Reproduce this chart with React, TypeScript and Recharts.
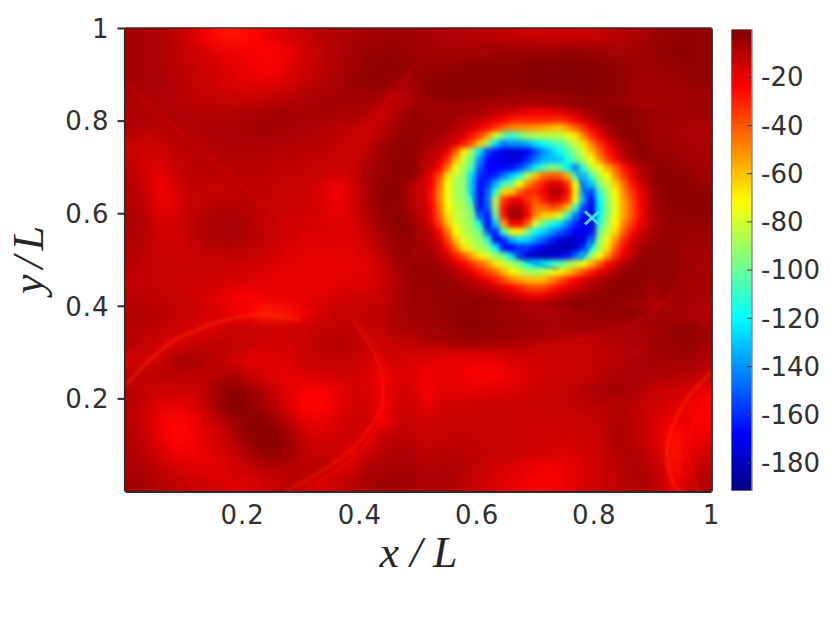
import React from 'react';
import { ScatterChart, Scatter, XAxis, YAxis, BarChart, Bar } from 'recharts';

const xTicks = [0.2, 0.4, 0.6, 0.8, 1];
const yTicks = [0.2, 0.4, 0.6, 0.8, 1];
const barTicks = [-20, -40, -60, -80, -100, -120, -140, -160, -180];
const vMin = -191.6;
const vMax = 0;
const markerPoint = [{ x: 0.796, y: 0.591 }];

// Coarse field of the whole domain, top row first (40 columns x 30 rows)
const coarseRows: number[][] = [
[-7,-8,-9,-12,-16,-22,-27,-28,-25,-22,-18,-15,-12,-10,-9,-8,-7,-6,-6,-6,-8,-9,-10,-10,-11,-12,-13,-14,-15,-15,-15,-14,-13,-11,-9,-7,-5,-4,-3,-4],
[-7,-8,-9,-11,-14,-17,-20,-21,-22,-24,-23,-19,-15,-12,-9,-7,-5,-4,-4,-5,-7,-7,-7,-7,-7,-6,-6,-5,-5,-5,-4,-5,-6,-7,-7,-6,-4,-3,-3,-4],
[-7,-8,-9,-11,-13,-15,-17,-19,-21,-23,-22,-18,-14,-11,-9,-6,-4,-3,-3,-4,-5,-5,-4,-3,-3,-3,-2,-2,-1,-1,-1,-1,-2,-3,-5,-6,-5,-4,-3,-4],
[-7,-8,-8,-10,-12,-14,-16,-18,-19,-19,-18,-15,-12,-10,-8,-5,-3,-3,-5,-8,-3,-2,-2,-2,-2,-2,-2,-1,-1,-1,-1,-1,-2,-3,-5,-7,-7,-6,-5,-4],
[-8,-9,-9,-10,-11,-12,-13,-14,-14,-13,-12,-11,-9,-8,-7,-6,-6,-8,-13,-10,-3,-3,-2,-2,-3,-4,-5,-6,-6,-5,-3,-2,-2,-3,-5,-7,-7,-7,-6,-5],
[-9,-9,-9,-9,-10,-10,-10,-10,-9,-8,-7,-7,-7,-7,-7,-8,-9,-14,-10,-5,-3,-4,-6,-7,-8,-8,-10,-14,-18,-20,-20,-18,-13,-8,-4,-3,-5,-6,-6,-5],
[-9,-10,-11,-10,-10,-9,-9,-8,-6,-6,-7,-8,-9,-10,-11,-12,-15,-12,-6,-4,-4,-8,-15,-22,-40,-48,-48,-45,-38,-28,-24,-18,-12,-5,-3,-3,-6,-8,-9,-9],
[-13,-15,-13,-11,-10,-10,-9,-9,-9,-9,-9,-10,-10,-11,-12,-14,-13,-7,-4,-3,-5,-12,-25,-60,-120,-140,-130,-100,-70,-50,-35,-24,-14,-7,-3,-3,-5,-7,-8,-8],
[-12,-17,-16,-12,-11,-10,-10,-10,-10,-10,-11,-11,-12,-12,-13,-14,-10,-6,-3,-3,-6,-20,-50,-100,-160,-170,-150,-120,-85,-60,-40,-26,-16,-9,-5,-3,-3,-5,-7,-8],
[-11,-17,-20,-14,-11,-11,-11,-11,-11,-11,-12,-12,-13,-14,-16,-14,-8,-5,-3,-3,-8,-30,-70,-100,-165,-150,-120,-130,-100,-70,-45,-30,-18,-14,-8,-4,-2,-3,-4,-6],
[-10,-15,-23,-17,-12,-13,-13,-12,-11,-12,-13,-14,-15,-18,-24,-17,-8,-3,-2,-10,-20,-45,-85,-140,-160,-110,-60,-30,-30,-100,-60,-40,-24,-25,-14,-6,-3,-2,-2,-4],
[-9,-13,-21,-18,-13,-12,-10,-10,-11,-12,-13,-14,-15,-17,-21,-16,-9,-4,-3,-8,-20,-60,-90,-140,-150,-60,-15,-30,-20,-130,-75,-48,-28,-40,-15,-7,-4,-3,-2,-2],
[-8,-11,-17,-15,-12,-9,-8,-8,-10,-12,-14,-15,-16,-17,-18,-17,-11,-5,-3,-3,-15,-70,-90,-165,-110,-25,-30,-40,-50,-155,-85,-55,-30,-35,-15,-7,-5,-4,-4,-4],
[-9,-11,-15,-16,-13,-9,-8,-8,-10,-12,-14,-16,-17,-17,-17,-18,-14,-8,-4,-3,-13,-60,-90,-165,-140,-100,-130,-140,-160,-170,-90,-58,-32,-17,-8,-5,-4,-4,-5,-6],
[-10,-12,-14,-15,-14,-12,-11,-11,-12,-14,-16,-18,-19,-19,-19,-19,-17,-11,-6,-4,-10,-45,-85,-105,-165,-170,-170,-175,-170,-130,-72,-50,-28,-16,-6,-4,-3,-4,-6,-7],
[-11,-12,-13,-14,-14,-14,-14,-15,-16,-17,-18,-19,-20,-20,-19,-19,-19,-14,-8,-4,-7,-22,-50,-72,-74,-72,-72,-60,-40,-25,-20,-14,-11,-9,-5,-3,-3,-4,-6,-8],
[-12,-12,-13,-14,-15,-15,-16,-17,-18,-19,-20,-21,-21,-20,-19,-18,-18,-15,-9,-5,-6,-10,-18,-26,-28,-28,-26,-22,-18,-14,-10,-8,-7,-6,-4,-3,-3,-5,-7,-8],
[-11,-11,-12,-13,-15,-17,-19,-22,-24,-22,-20,-20,-19,-18,-16,-15,-14,-13,-9,-5,-5,-4,-4,-5,-8,-12,-16,-20,-20,-14,-8,-5,-4,-3,-3,-4,-5,-6,-7,-8],
[-10,-10,-11,-12,-13,-15,-18,-21,-24,-30,-29,-26,-20,-15,-13,-12,-12,-11,-9,-6,-6,-5,-3,-3,-4,-5,-6,-7,-8,-8,-6,-5,-4,-4,-4,-5,-6,-8,-9,-10],
[-10,-11,-12,-14,-17,-19,-16,-13,-13,-14,-15,-15,-14,-12,-12,-12,-13,-12,-9,-8,-7,-5,-4,-3,-3,-4,-5,-6,-7,-8,-8,-8,-7,-7,-8,-8,-6,-4,-3,-6],
[-10,-13,-16,-18,-14,-12,-11,-12,-14,-16,-16,-15,-13,-11,-10,-11,-13,-15,-13,-13,-10,-10,-8,-7,-7,-8,-9,-10,-11,-12,-13,-13,-12,-11,-10,-8,-6,-5,-4,-7],
[-16,-16,-14,-8,-7,-10,-13,-16,-19,-19,-18,-16,-14,-13,-12,-13,-16,-17,-16,-17,-17,-20,-20,-21,-21,-19,-17,-16,-15,-15,-14,-13,-12,-11,-9,-8,-7,-6,-7,-9],
[-12,-12,-11,-11,-12,-12,-10,-9,-14,-17,-19,-19,-17,-16,-15,-15,-17,-22,-18,-18,-22,-20,-21,-22,-24,-23,-20,-18,-16,-15,-14,-13,-11,-9,-8,-8,-9,-10,-11,-13],
[-11,-13,-15,-15,-14,-11,-5,-2,-5,-10,-16,-20,-23,-23,-20,-17,-17,-21,-17,-16,-22,-19,-18,-19,-19,-18,-17,-16,-15,-13,-12,-10,-8,-7,-8,-11,-14,-15,-17,-20],
[-11,-15,-19,-20,-18,-13,-5,-1,-3,-7,-13,-20,-25,-24,-20,-16,-15,-22,-16,-15,-19,-16,-15,-15,-14,-14,-14,-14,-13,-13,-12,-11,-11,-10,-11,-14,-16,-18,-22,-24],
[-11,-16,-22,-25,-22,-17,-11,-5,-3,-3,-7,-14,-20,-20,-17,-14,-14,-24,-14,-13,-16,-14,-13,-13,-14,-14,-14,-15,-15,-15,-14,-13,-12,-9,-10,-14,-18,-22,-20,-24],
[-10,-15,-21,-25,-23,-19,-15,-9,-4,-1,-3,-8,-15,-17,-15,-13,-21,-13,-11,-11,-14,-13,-12,-12,-13,-14,-14,-15,-15,-15,-16,-15,-13,-8,-10,-14,-20,-26,-22,-20],
[-9,-12,-17,-21,-22,-20,-17,-13,-8,-4,-3,-7,-12,-13,-13,-20,-14,-11,-9,-9,-12,-11,-10,-11,-12,-13,-14,-15,-16,-17,-17,-16,-14,-10,-9,-12,-17,-28,-20,-16],
[-8,-10,-13,-16,-18,-19,-18,-16,-13,-11,-10,-11,-11,-10,-17,-16,-9,-8,-7,-7,-10,-9,-9,-11,-13,-16,-18,-20,-22,-22,-19,-16,-14,-12,-9,-9,-14,-26,-17,-12],
[-6,-8,-10,-12,-14,-15,-17,-18,-17,-15,-13,-10,-14,-18,-13,-10,-8,-6,-6,-6,-9,-8,-9,-12,-15,-18,-20,-22,-23,-22,-19,-16,-14,-12,-10,-9,-12,-22,-14,-9],
];

// Finer field of the large vortex, top row first (30 columns x 26 rows)
const vortexRows: number[][] = [
[-6,-6,-6,-5,-5,-5,-5,-6,-7,-8,-8,-8,-8,-8,-8,-7,-6,-5,-4,-4,-3,-3,-3,-3,-4,-5,-6,-7,-8,-8],
[-6,-6,-5,-5,-5,-6,-7,-8,-9,-10,-12,-14,-17,-20,-22,-22,-20,-18,-15,-12,-9,-6,-4,-3,-2,-2,-3,-4,-5,-6],
[-5,-5,-5,-6,-7,-9,-11,-13,-16,-20,-24,-28,-30,-30,-30,-30,-30,-32,-28,-22,-16,-10,-6,-3,-2,-2,-3,-4,-5,-6],
[-5,-5,-6,-7,-9,-12,-15,-20,-26,-34,-42,-48,-50,-50,-52,-55,-58,-60,-52,-42,-32,-22,-14,-8,-4,-3,-3,-4,-5,-6],
[-5,-6,-8,-10,-13,-18,-26,-36,-52,-80,-100,-110,-100,-90,-85,-85,-85,-85,-76,-68,-48,-32,-22,-12,-6,-3,-3,-3,-4,-6],
[-6,-8,-10,-13,-18,-26,-40,-60,-90,-125,-145,-140,-140,-135,-125,-118,-110,-105,-95,-82,-65,-48,-33,-23,-14,-7,-4,-3,-4,-6],
[-8,-10,-12,-22,-40,-68,-90,-125,-155,-165,-172,-175,-172,-168,-155,-140,-130,-118,-105,-92,-78,-60,-42,-28,-18,-10,-5,-3,-3,-5],
[-10,-11,-18,-32,-58,-82,-100,-140,-165,-170,-172,-176,-172,-160,-145,-135,-132,-130,-115,-100,-88,-72,-52,-35,-24,-14,-8,-4,-3,-4],
[-11,-14,-24,-45,-75,-88,-105,-150,-168,-168,-168,-165,-155,-140,-122,-105,-95,-100,-122,-145,-110,-85,-74,-56,-42,-28,-18,-10,-5,-3],
[-13,-22,-38,-65,-85,-90,-125,-160,-165,-160,-145,-130,-115,-85,-60,-45,-40,-42,-58,-110,-135,-105,-85,-72,-50,-34,-22,-12,-6,-4],
[-14,-24,-44,-72,-88,-92,-130,-165,-158,-135,-110,-100,-72,-52,-38,-28,-18,-18,-32,-75,-140,-130,-95,-82,-62,-45,-28,-18,-9,-4],
[-14,-26,-48,-74,-88,-92,-125,-168,-150,-112,-65,-62,-42,-32,-30,-22,-10,-10,-25,-70,-140,-155,-110,-88,-70,-50,-34,-22,-12,-5],
[-13,-26,-48,-72,-86,-90,-112,-170,-148,-85,-35,-22,-22,-32,-40,-28,-18,-18,-32,-75,-135,-165,-120,-92,-74,-54,-38,-24,-14,-6],
[-12,-24,-46,-70,-84,-88,-100,-165,-152,-90,-26,-10,-10,-26,-45,-45,-38,-42,-60,-110,-155,-170,-122,-94,-76,-56,-40,-26,-15,-7],
[-12,-22,-42,-66,-82,-88,-95,-145,-165,-100,-28,-6,-6,-22,-50,-62,-65,-78,-110,-145,-165,-175,-120,-92,-74,-55,-40,-26,-15,-8],
[-10,-19,-36,-60,-78,-86,-92,-115,-168,-130,-55,-22,-22,-42,-80,-100,-115,-125,-145,-160,-168,-170,-112,-88,-70,-50,-34,-22,-13,-8],
[-8,-13,-24,-46,-72,-84,-90,-98,-150,-160,-110,-75,-70,-95,-120,-128,-140,-150,-160,-168,-172,-165,-100,-82,-64,-42,-27,-17,-10,-7],
[-7,-11,-18,-36,-60,-78,-86,-92,-110,-165,-160,-135,-125,-128,-140,-150,-162,-172,-178,-178,-175,-145,-92,-76,-52,-32,-19,-11,-7,-5],
[-6,-9,-14,-26,-46,-66,-80,-88,-95,-120,-165,-168,-160,-158,-165,-172,-178,-182,-182,-175,-160,-118,-88,-66,-42,-25,-14,-8,-5,-4],
[-5,-7,-11,-18,-28,-40,-55,-68,-80,-90,-100,-125,-155,-175,-180,-182,-178,-172,-165,-150,-125,-90,-72,-52,-32,-20,-11,-6,-4,-4],
[-4,-5,-7,-11,-17,-24,-32,-42,-52,-66,-80,-88,-98,-115,-125,-122,-112,-105,-92,-84,-72,-58,-40,-26,-17,-9,-5,-3,-3,-4],
[-4,-4,-5,-7,-10,-14,-20,-28,-36,-44,-58,-70,-80,-88,-90,-85,-78,-70,-62,-50,-38,-28,-20,-14,-9,-5,-3,-3,-3,-4],
[-4,-4,-4,-5,-6,-9,-12,-16,-22,-28,-38,-47,-54,-58,-60,-58,-50,-40,-30,-24,-17,-12,-8,-6,-4,-3,-3,-3,-4,-5],
[-5,-4,-4,-4,-5,-6,-7,-9,-12,-15,-19,-24,-30,-35,-38,-36,-30,-24,-19,-15,-11,-8,-6,-4,-3,-3,-3,-4,-5,-6],
[-6,-5,-4,-4,-4,-4,-5,-5,-6,-8,-10,-13,-16,-19,-22,-19,-16,-12,-9,-7,-6,-4,-3,-3,-3,-3,-3,-4,-6,-7],
[-7,-6,-5,-4,-4,-3,-3,-3,-3,-4,-5,-6,-7,-8,-8,-8,-6,-5,-4,-3,-3,-3,-3,-3,-4,-5,-6,-7,-8,-9],
];
const vortexX0 = 0.5094;
const vortexDx = 0.01365;
const vortexY0 = 0.8368;
const vortexDy = 0.0173;

// Thin filaments
const arcA = [{x:0.001,y:0.23},{x:0.077,y:0.321},{x:0.162,y:0.367},{x:0.23,y:0.382},{x:0.298,y:0.371}];
const arcB = [{x:0.387,y:0.371},{x:0.426,y:0.295},{x:0.441,y:0.209},{x:0.421,y:0.144},{x:0.375,y:0.079},{x:0.299,y:0.018},{x:0.273,y:0.001}];
const arcC = [{x:0.4,y:0.36},{x:0.438,y:0.29},{x:0.452,y:0.205},{x:0.43,y:0.135},{x:0.385,y:0.07},{x:0.32,y:0.012}];
const diagA = [{x:0,y:0.883},{x:0.128,y:0.738},{x:0.265,y:0.587},{x:0.401,y:0.436}];
const diagB = [{x:0.021,y:0.786},{x:0.16,y:0.65},{x:0.31,y:0.511}];
const upCurve = [{x:0.35,y:0.641},{x:0.401,y:0.738},{x:0.443,y:0.836},{x:0.503,y:0.933}];
const cornerA = [{x:0.999,y:0.257},{x:0.963,y:0.208},{x:0.938,y:0.154},{x:0.924,y:0.089},{x:0.933,y:0.024},{x:0.946,y:0}];
const cornerB = [{x:0.999,y:0.214},{x:0.972,y:0.154},{x:0.96,y:0.089},{x:0.972,y:0.024},{x:0.98,y:0}];
const midThin = [{x:0.844,y:0.203},{x:0.685,y:0.11},{x:0.571,y:0.03}];
const underBand = [{x:0.514,y:0.312},{x:0.61,y:0.298},{x:0.77,y:0.326},{x:0.883,y:0.376},{x:0.941,y:0.434}];
const ringA = [{x:0.592,y:0.65},{x:0.605,y:0.59},{x:0.64,y:0.54},{x:0.682,y:0.5},{x:0.74,y:0.48}];
const ringB = [{x:0.77,y:0.69},{x:0.79,y:0.63},{x:0.8,y:0.58},{x:0.795,y:0.535},{x:0.775,y:0.5}];

const PLOT_LEFT = 125.5;
const PLOT_TOP = 28.5;
const PLOT_W = 586;
const PLOT_H = 462.5;

const jetStops: [number, number, number, number][] = [
  [0, 0, 0, 128], [0.125, 0, 0, 255], [0.375, 0, 255, 255], [0.625, 255, 255, 0], [0.875, 255, 0, 0], [1, 128, 0, 0],
];
function jetAt(t: number): string {
  const c = Math.max(0, Math.min(1, t));
  for (let i = 1; i < jetStops.length; i++) {
    if (c <= jetStops[i][0]) {
      const a = jetStops[i - 1];
      const b = jetStops[i];
      const f = (c - a[0]) / (b[0] - a[0]);
      return `rgb(${Math.round(a[1] + (b[1] - a[1]) * f)},${Math.round(a[2] + (b[2] - a[2]) * f)},${Math.round(a[3] + (b[3] - a[3]) * f)})`;
    }
  }
  return 'rgb(128,0,0)';
}
const jet = (v: number) => jetAt((v - vMin) / (vMax - vMin));

const coarseCells = coarseRows.flatMap((row, r) =>
  row.map((value, c) => ({ x: (c + 0.5) / row.length, y: 1 - (r + 0.5) / coarseRows.length, value, r, c }))
);
const vortexCells = vortexRows.flatMap((row, r) =>
  row.map((value, c) => ({ x: vortexX0 + c * vortexDx, y: vortexY0 - r * vortexDy, value }))
);

const CoarseCell = (p: any) => {
  const w = PLOT_W / 40;
  const h = PLOT_H / 30;
  const { r, c, value } = p.payload;
  const padL = c === 0 ? 40 : 0;
  const padR = c === 39 ? 40 : 0;
  const padT = r === 0 ? 40 : 0;
  const padB = r === 29 ? 40 : 0;
  return <rect x={p.cx - w / 2 - padL - 0.5} y={p.cy - h / 2 - padT - 0.5} width={w + padL + padR + 1} height={h + padT + padB + 1} fill={jet(value)} />;
};
const VortexCell = (p: any) => {
  const w = vortexDx * PLOT_W;
  const h = vortexDy * PLOT_H;
  return <rect x={p.cx - w / 2 - 0.5} y={p.cy - h / 2 - 0.5} width={w + 1} height={h + 1} fill={jet(p.payload.value)} />;
};
const NoDot = () => <g />;
const CrossMark = (p: any) => (
  <g stroke="#3fdcff" strokeWidth={2.8} strokeLinecap="butt">
    <line x1={p.cx - 7} y1={p.cy - 6.5} x2={p.cx + 7} y2={p.cy + 6.5} />
    <line x1={p.cx - 7} y1={p.cy + 6.5} x2={p.cx + 7} y2={p.cy - 6.5} />
  </g>
);

const tickStyle = { fontFamily: '"DejaVu Sans"', fontSize: 26, fill: '#303030', letterSpacing: 1 };
const barTickStyle = { fontFamily: '"DejaVu Sans"', fontSize: 26, fill: '#303030' };
const AXIS = '#2b2b2b';

const MathX = () => (
  <text x={418.5} y={567} textAnchor="middle" fontFamily='"Liberation Serif"' fontStyle="italic" fontSize={44} fill="#262626" textLength={78}>x/L</text>
);
const MathY = () => (
  <text transform="translate(43 260) rotate(-90)" textAnchor="middle" fontFamily='"Liberation Serif"' fontStyle="italic" fontSize={44} fill="#262626" textLength={68}>y/L</text>
);

const filaments: { data: { x: number; y: number }[]; color: string; w: number; o: number }[] = [
  { data: arcA, color: '#ff2a00', w: 2.5, o: 0.7 },
  { data: arcB, color: '#ff2000', w: 2, o: 0.7 },
  { data: arcC, color: '#ff1000', w: 1.5, o: 0.5 },
  { data: diagA, color: '#f00000', w: 2, o: 0.45 },
  { data: diagB, color: '#e80000', w: 1.5, o: 0.35 },
  { data: upCurve, color: '#f00000', w: 2, o: 0.35 },
  { data: cornerA, color: '#ff3000', w: 2.2, o: 0.7 },
  { data: cornerB, color: '#ff1000', w: 2, o: 0.5 },
  { data: midThin, color: '#f00000', w: 1.6, o: 0.35 },
  { data: underBand, color: '#f00000', w: 3, o: 0.3 },
  { data: ringA, color: '#0000b0', w: 1.6, o: 0.5 },
  { data: ringB, color: '#0000b0', w: 1.6, o: 0.6 },
];

const barData = [{ name: 'scale', span: [vMin, vMax] }];

export default function App() {
  return (
    <div style={{ position: 'absolute', left: 0, top: 0, width: 830, height: 623, overflow: 'hidden', background: '#fff' }}>
      <style>{`
        .heat-coarse { filter: blur(6px); clip-path: url(#plotClip); }
        .heat-fine { filter: blur(2.5px); clip-path: url(#plotClip); }
        .heat-line { filter: blur(0.8px); clip-path: url(#plotClip); }
      `}</style>
      <ScatterChart
        width={830}
        height={623}
        margin={{ left: 25.5, right: 108.5, top: 23.5, bottom: 71.5 }}
        style={{ position: 'absolute', left: 0, top: 0 }}
      >
        <defs>
          <clipPath id="plotClip" clipPathUnits="userSpaceOnUse">
            <rect x={PLOT_LEFT} y={PLOT_TOP} width={PLOT_W} height={PLOT_H} />
          </clipPath>
        </defs>
        <XAxis xAxisId="b" type="number" dataKey="x" domain={[0, 1]} ticks={xTicks} interval={0} orientation="bottom" height={60}
          tick={tickStyle} tickSize={0} tickMargin={14} axisLine={{ stroke: AXIS, strokeWidth: 3 }} />
        <XAxis xAxisId="t" type="number" dataKey="x" domain={[0, 1]} ticks={xTicks} orientation="top" height={5} tick={false} tickLine={false}
          axisLine={{ stroke: AXIS, strokeWidth: 2.5 }} />
        <YAxis yAxisId="l" type="number" dataKey="y" domain={[0, 1]} ticks={yTicks} interval={0} orientation="left" width={100}
          tick={tickStyle} tickSize={8} tickMargin={8} tickLine={{ stroke: AXIS, strokeWidth: 2 }} axisLine={{ stroke: AXIS, strokeWidth: 3.2 }} />
        <YAxis yAxisId="r" type="number" dataKey="y" domain={[0, 1]} ticks={yTicks} interval={0} orientation="right" width={10}
          tick={false} tickSize={8} tickLine={{ stroke: AXIS, strokeWidth: 2 }} axisLine={{ stroke: AXIS, strokeWidth: 2.8 }} />
        <Scatter className="heat-coarse" xAxisId="b" yAxisId="l" data={coarseCells} shape={CoarseCell} isAnimationActive={false} />
        <Scatter className="heat-fine" xAxisId="b" yAxisId="l" data={vortexCells} shape={VortexCell} isAnimationActive={false} />
        {filaments.map((f, i) => (
          <Scatter key={i} className="heat-line" xAxisId="b" yAxisId="l" data={f.data} shape={NoDot} lineJointType="natural"
            line={{ stroke: f.color, strokeWidth: f.w, strokeOpacity: f.o, fill: 'none' }} isAnimationActive={false} />
        ))}
        <Scatter xAxisId="b" yAxisId="l" data={markerPoint} shape={CrossMark} isAnimationActive={false} />
        <MathX />
        <MathY />
      </ScatterChart>
      <div style={{ position: 'absolute', left: 731, top: 0 }}>
        <BarChart width={99} height={623} data={barData} margin={{ left: 0, right: 18, top: 29, bottom: 132 }} barCategoryGap={0}>
          <defs>
            <linearGradient id="jetGrad" x1="0" y1="1" x2="0" y2="0">
              {jetStops.map((s) => (
                <stop key={s[0]} offset={s[0]} stopColor={`rgb(${s[1]},${s[2]},${s[3]})`} />
              ))}
            </linearGradient>
          </defs>
          <XAxis dataKey="name" hide />
          <YAxis type="number" domain={[vMin, vMax]} ticks={barTicks} interval={0} orientation="right" width={60} allowDataOverflow
            tick={barTickStyle} tickSize={-5} tickMargin={14} tickLine={{ stroke: '#444', strokeWidth: 1 }} axisLine={false} />
          <Bar dataKey="span" fill="url(#jetGrad)" stroke="#8c8c8c" strokeWidth={1.5} isAnimationActive={false} />
        </BarChart>
      </div>
    </div>
  );
}
